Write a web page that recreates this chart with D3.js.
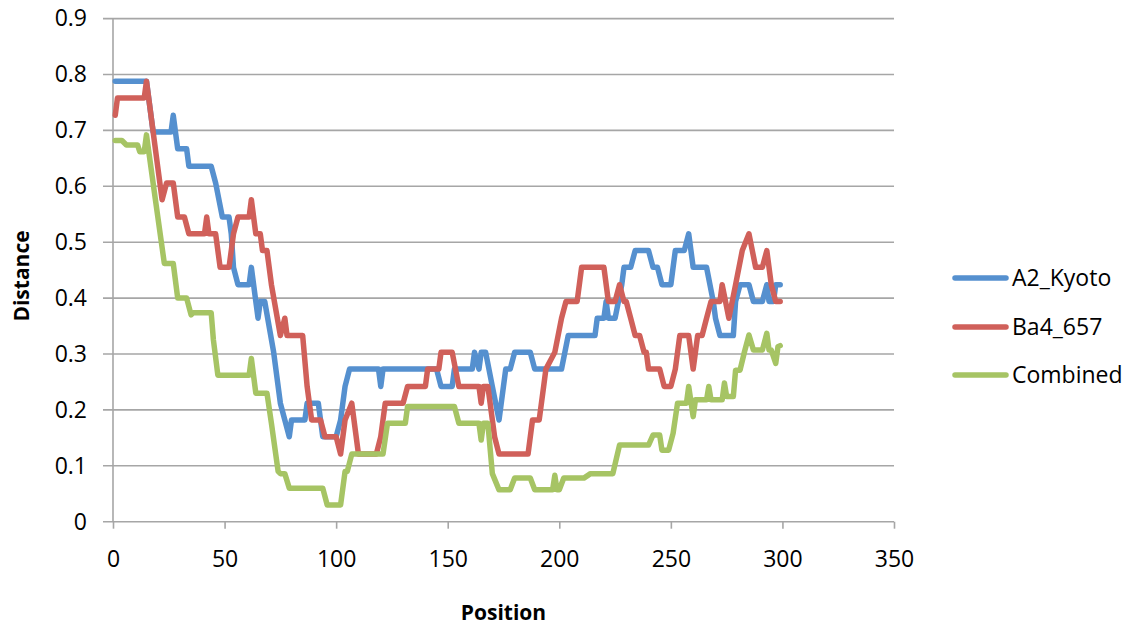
<!DOCTYPE html>
<html>
<head>
<meta charset="utf-8">
<script src="https://cdn.jsdelivr.net/npm/d3@7"></script>
<style>
  html, body { margin: 0; padding: 0; background: #fff; }
  svg { display: block; }
  text { font-family: "Open Sans", "Liberation Sans", sans-serif; fill: #000; }
</style>
</head>
<body>
<svg id="chart" width="1128" height="628"></svg>
<script>
// ---- data ----
const seriesNames = ["A2_Kyoto", "Ba4_657", "Combined"];

const kyotoPos = [1,15,18,26,27,29,33,34,44,46,49,52,53,54,56,61,62,64,65,66,68,72,75,77,79,80,86,87,92,93,94,100,102,104,106,119,120,121,145,147,152,153,161,162,164,165,167,170,173,176,178,180,187,189,201,204,216,217,220,221,222,225,228,229,232,234,240,242,244,246,250,251,252,256,258,260,266,269,270,272,278,279,281,285,287,291,293,294,296,297,299];
const kyotoVal = [0.788,0.788,0.697,0.697,0.727,0.667,0.667,0.636,0.636,0.606,0.545,0.545,0.515,0.455,0.424,0.424,0.455,0.394,0.364,0.394,0.394,0.303,0.212,0.182,0.152,0.182,0.182,0.212,0.212,0.182,0.152,0.152,0.182,0.242,0.273,0.273,0.242,0.273,0.273,0.242,0.242,0.273,0.273,0.303,0.273,0.303,0.303,0.242,0.182,0.273,0.273,0.303,0.303,0.273,0.273,0.333,0.333,0.364,0.364,0.394,0.364,0.364,0.424,0.455,0.455,0.485,0.485,0.455,0.455,0.424,0.424,0.455,0.485,0.485,0.515,0.455,0.455,0.394,0.364,0.333,0.333,0.394,0.424,0.424,0.394,0.394,0.424,0.394,0.394,0.424,0.424];

const ba4Pos = [1,2,14,15,20,22,24,27,29,32,34,41,42,43,46,48,52,54,56,61,62,64,66,67,69,71,75,77,78,85,87,89,93,95,100,102,104,107,110,118,120,122,130,132,140,141,146,147,152,155,164,165,166,168,171,173,186,188,191,193,194,198,201,203,208,210,220,222,225,227,229,230,232,234,236,238,239,240,245,247,250,252,254,258,260,262,264,266,268,272,273,276,279,282,285,288,291,293,295,297,299];
const ba4Val = [0.727,0.758,0.758,0.788,0.636,0.576,0.606,0.606,0.545,0.545,0.515,0.515,0.545,0.515,0.515,0.455,0.455,0.515,0.545,0.545,0.576,0.515,0.515,0.485,0.485,0.424,0.333,0.364,0.333,0.333,0.242,0.182,0.182,0.152,0.152,0.121,0.182,0.212,0.121,0.121,0.152,0.212,0.212,0.242,0.242,0.273,0.273,0.303,0.303,0.242,0.242,0.212,0.242,0.242,0.152,0.121,0.121,0.182,0.182,0.242,0.273,0.303,0.364,0.394,0.394,0.455,0.455,0.394,0.394,0.424,0.394,0.394,0.364,0.333,0.333,0.303,0.303,0.273,0.273,0.242,0.242,0.273,0.333,0.333,0.273,0.333,0.333,0.364,0.394,0.394,0.424,0.364,0.424,0.485,0.515,0.455,0.455,0.485,0.424,0.394,0.394];

const combinedPos = [1,4,6,11,12,14,15,19,23,27,29,33,35,36,44,45,47,61,62,64,69,71,74,75,77,79,94,96,102,104,105,107,121,123,131,132,153,155,164,165,166,168,170,173,178,180,187,189,197,198,199,200,202,211,214,224,227,240,242,245,246,249,251,253,257,258,260,261,266,267,268,273,274,275,278,279,281,283,285,287,291,293,294,295,297,298,299];
const combinedVal = [0.682,0.682,0.674,0.674,0.662,0.662,0.692,0.576,0.462,0.462,0.400,0.400,0.370,0.374,0.374,0.325,0.262,0.262,0.292,0.230,0.230,0.176,0.090,0.086,0.086,0.060,0.060,0.030,0.030,0.090,0.090,0.121,0.121,0.176,0.176,0.206,0.206,0.176,0.176,0.146,0.176,0.176,0.086,0.057,0.057,0.078,0.078,0.057,0.057,0.083,0.057,0.057,0.078,0.078,0.086,0.086,0.137,0.137,0.155,0.155,0.128,0.128,0.158,0.212,0.212,0.242,0.188,0.218,0.218,0.242,0.218,0.218,0.248,0.224,0.224,0.271,0.271,0.304,0.334,0.307,0.307,0.337,0.307,0.307,0.283,0.313,0.315];

const xTicks = [0, 50, 100, 150, 200, 250, 300, 350];
const yTicks = [0, 0.1, 0.2, 0.3, 0.4, 0.5, 0.6, 0.7, 0.8, 0.9];
const xTitle = "Position";
const yTitle = "Distance";

// ---- drawing ----
const colors = ["#5590cf", "#d0605a", "#a6c464"];
const series = [
  { name: seriesNames[0], pos: kyotoPos, val: kyotoVal, color: colors[0] },
  { name: seriesNames[1], pos: ba4Pos, val: ba4Val, color: colors[1] },
  { name: seriesNames[2], pos: combinedPos, val: combinedVal, color: colors[2] }
];

const svg = d3.select("#chart");
const x = d3.scaleLinear().domain([0, 350]).range([113, 894]);
const y = d3.scaleLinear().domain([0, 0.9]).range([521.7, 18.6]);
const gridColor = "#a6a6a6";

// horizontal gridlines (with left tick stubs)
svg.append("g").selectAll("line").data(yTicks.filter(d => d > 0)).join("line")
  .attr("x1", 103).attr("x2", 894)
  .attr("y1", d => y(d)).attr("y2", d => y(d))
  .attr("stroke", gridColor).attr("stroke-width", 1.6);

// y axis line
svg.append("line")
  .attr("x1", x(0)).attr("x2", x(0))
  .attr("y1", y(0.9)).attr("y2", y(0))
  .attr("stroke", gridColor).attr("stroke-width", 1.6);

// x axis via d3.axisBottom
const xAxis = d3.axisBottom(x).tickValues(xTicks).tickSize(7).tickPadding(22).tickFormat(d3.format("d"));
const gx = svg.append("g").attr("transform", `translate(0,${y(0)})`).call(xAxis);
gx.select(".domain").attr("stroke", gridColor).attr("stroke-width", 1.6).attr("d", `M${x(0)-10},0H${x(350)}`);
gx.selectAll(".tick line").attr("stroke", gridColor).attr("stroke-width", 1.6);
gx.selectAll(".tick text").attr("font-size", 23).attr("font-family", '"Open Sans", sans-serif').attr("fill", "#000");

// y axis labels via d3.axisLeft
const yAxis = d3.axisLeft(y).tickValues(yTicks).tickSize(0).tickPadding(26)
  .tickFormat(d => d === 0 ? "0" : d3.format(".1f")(d));
const gy = svg.append("g").attr("transform", `translate(${x(0)},0)`).call(yAxis);
gy.select(".domain").remove();
gy.selectAll(".tick text").attr("font-size", 23).attr("font-family", '"Open Sans", sans-serif').attr("fill", "#000");

// axis titles
svg.append("text").attr("x", (x(0) + x(350)) / 2).attr("y", 620)
  .attr("text-anchor", "middle").attr("font-size", 21).attr("font-weight", "bold").text(xTitle);
svg.append("text").attr("transform", "translate(29,276) rotate(-90)")
  .attr("text-anchor", "middle").attr("font-size", 21).attr("font-weight", "bold").text(yTitle);

// lines
const line = d3.line().x(d => x(d[0])).y(d => y(d[1]));
series.forEach(s => {
  const pts = s.pos.map((p, i) => [p, s.val[i]]);
  svg.append("path").datum(pts)
    .attr("d", line)
    .attr("fill", "none")
    .attr("stroke", s.color)
    .attr("stroke-width", 5.5)
    .attr("stroke-linejoin", "round")
    .attr("stroke-linecap", "round");
});

// legend
const legendY = [278, 327, 375];
const lg = svg.append("g").selectAll("g").data(series).join("g")
  .attr("transform", (d, i) => `translate(0,${legendY[i]})`);
lg.append("line").attr("x1", 955).attr("x2", 1006).attr("y1", 0).attr("y2", 0)
  .attr("stroke", d => d.color).attr("stroke-width", 5.5).attr("stroke-linecap", "round");
lg.append("text").attr("x", 1012).attr("y", 0).attr("dy", "0.36em")
  .attr("font-size", 23).text(d => d.name);
</script>
</body>
</html>
